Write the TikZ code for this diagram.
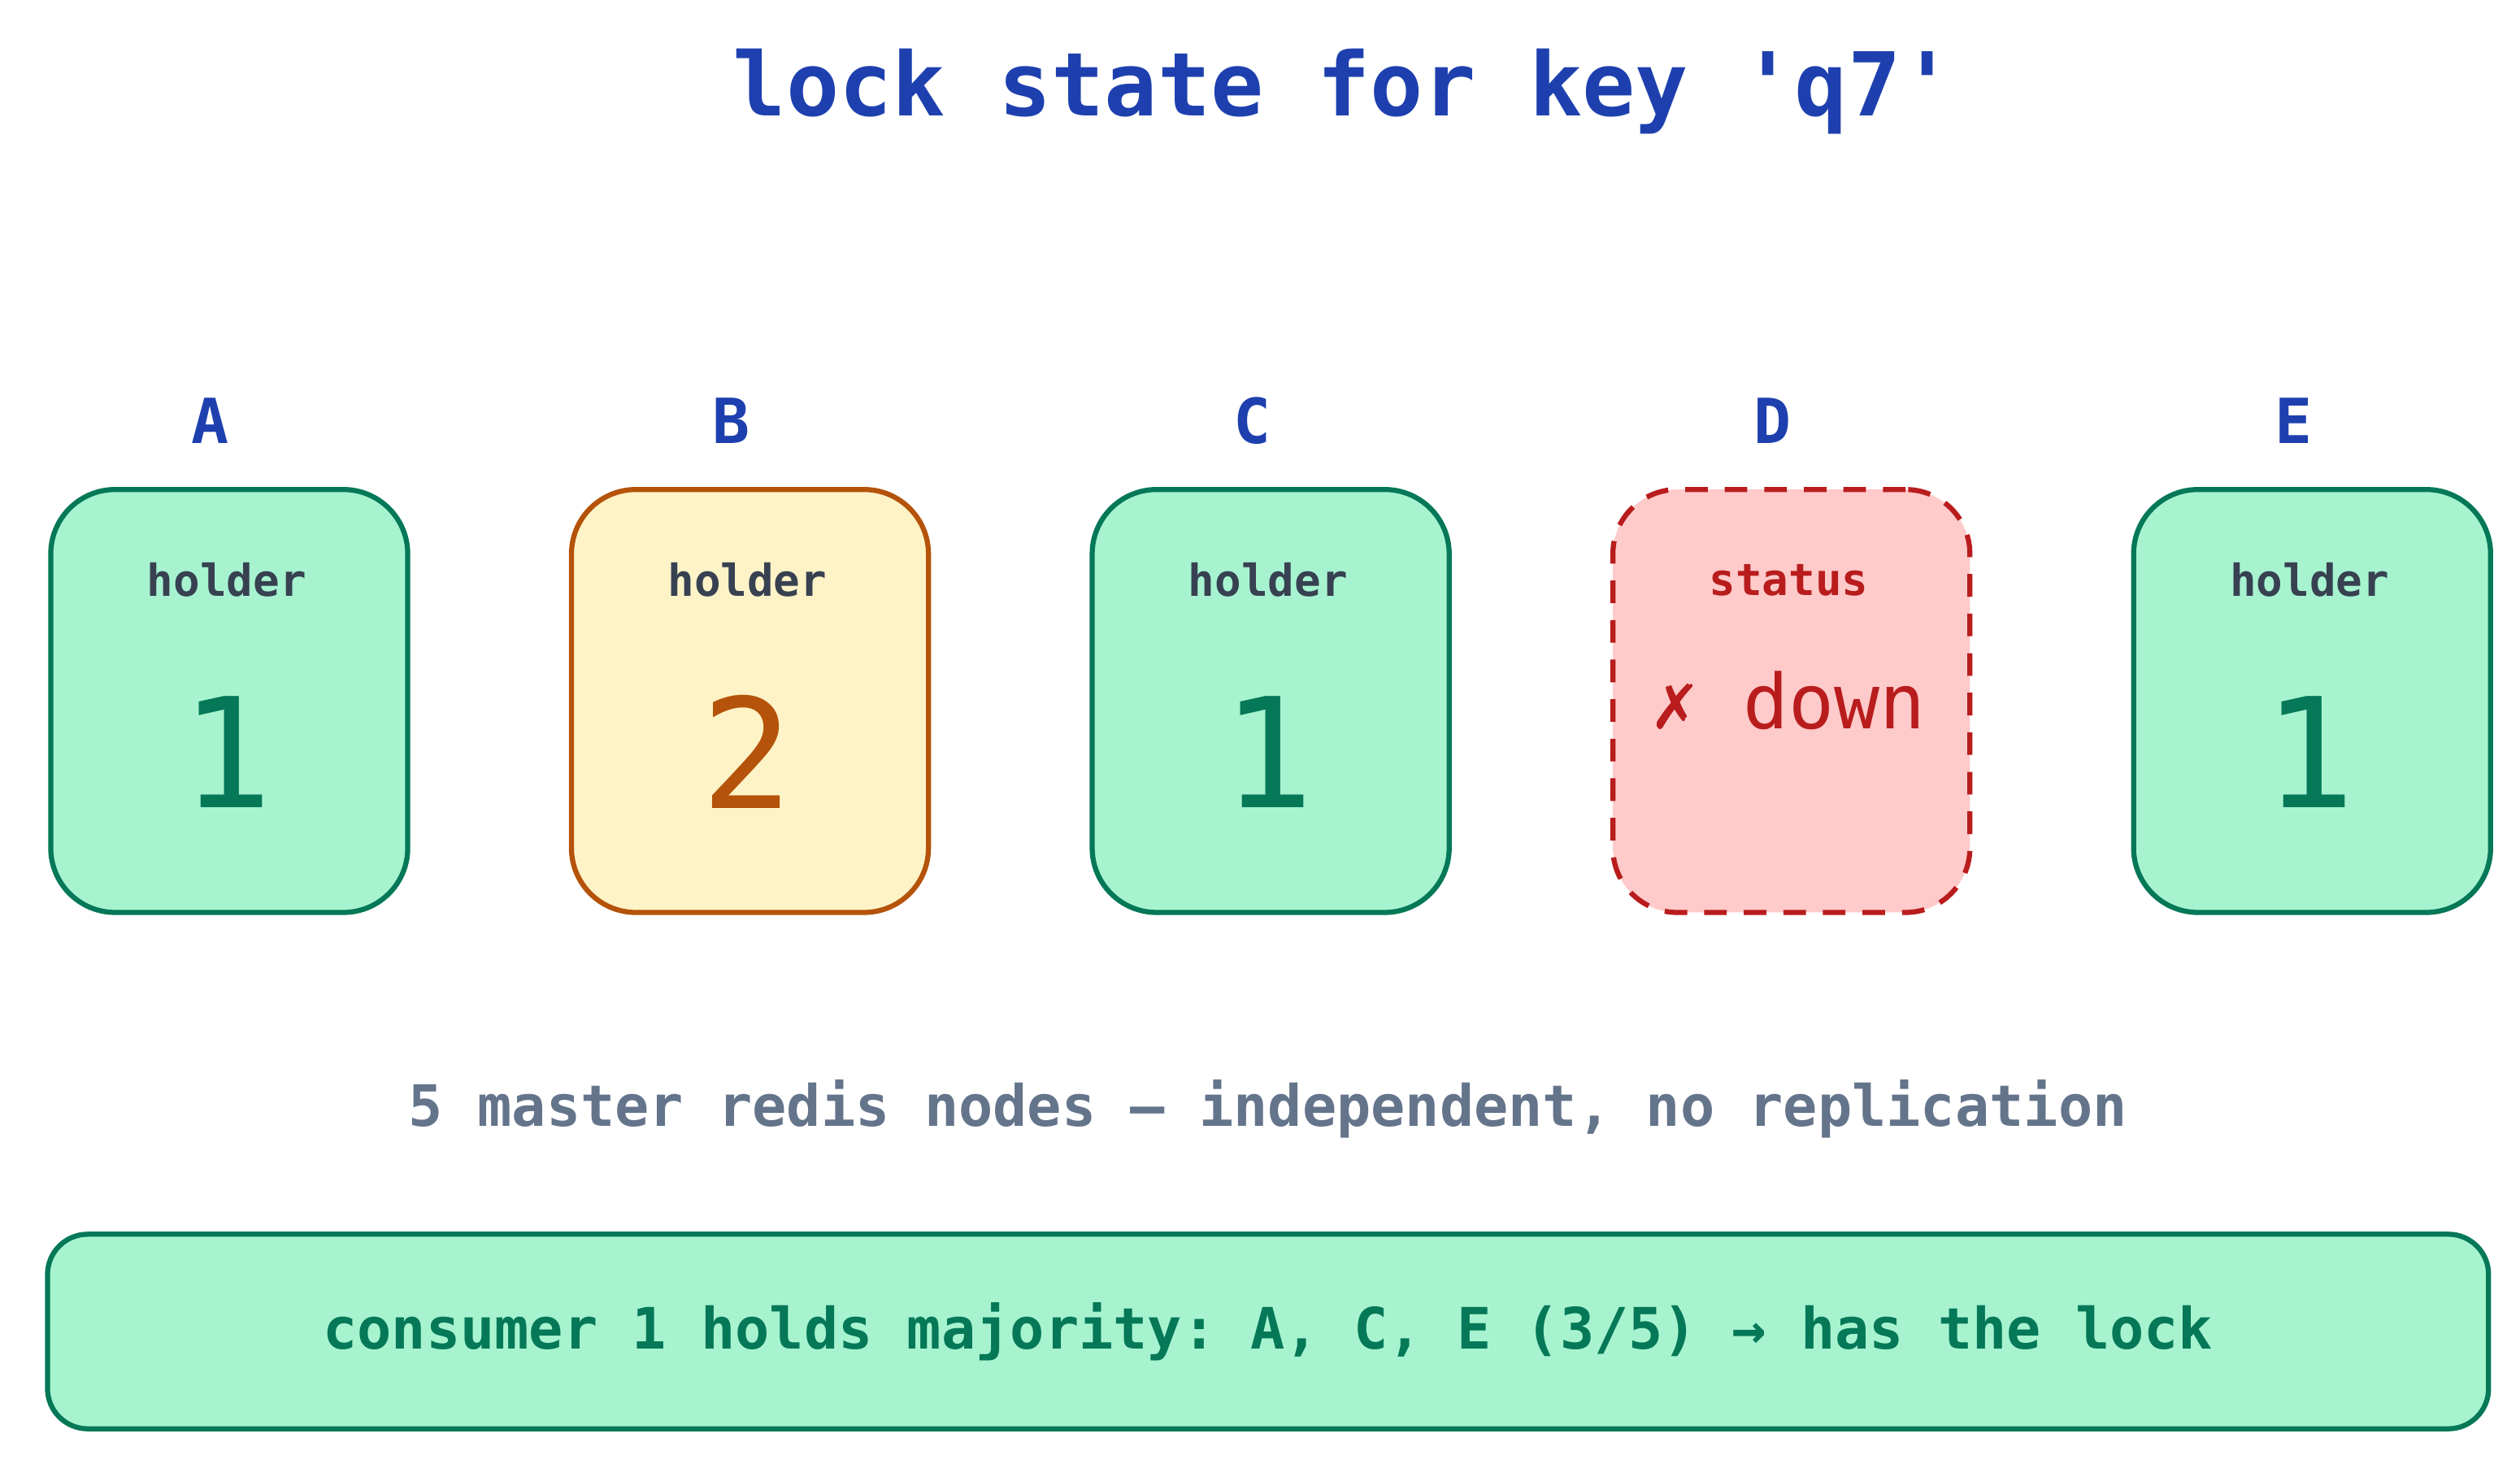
\documentclass[tikz,border=0pt]{standalone}
\usepackage{fontspec}
\setmonofont{DejaVu Sans Mono}
\definecolor{gfill}{HTML}{A7F3D0}\definecolor{gline}{HTML}{047857}
\definecolor{yfill}{HTML}{FEF3C7}\definecolor{yline}{HTML}{B45309}
\definecolor{rfill}{HTML}{FECACA}\definecolor{rline}{HTML}{B91C1C}
\definecolor{tblue}{HTML}{1E40AF}\definecolor{hold}{HTML}{374151}
\definecolor{cap}{HTML}{64748B}
\tikzset{
 box/.style={rounded corners=0.4cm,line width=0.9pt,minimum width=2.22cm,minimum height=2.63cm,anchor=north west},
 gbox/.style={box,draw=gline,fill=gfill},
 ybox/.style={box,draw=yline,fill=yfill},
 rbox/.style={box,draw=rline,fill=rfill,dashed,dash pattern=on 4pt off 3pt},
 lbl/.style={font=\ttfamily\bfseries\fontsize{11}{13}\selectfont,text=tblue},
 hl/.style={font=\ttfamily\bfseries\fontsize{7.8}{9}\selectfont},
 dig/.style={font=\ttfamily\fontsize{27}{30}\selectfont},
}
\begin{document}
\begin{tikzpicture}[x=0.01cm,y=-0.01cm]
\useasboundingbox (0,0) rectangle (1568,910.5);
\node[font=\ttfamily\bfseries\fontsize{15.6}{18}\selectfont,text=tblue] (title) at (836,57) {lock state for key 'q7'};
\foreach \n/\x/\s/\c/\v in {A/30/gbox/gline/1,B/354/ybox/yline/2,C/678/gbox/gline/1,E/1326/gbox/gline/1}{
 \node[\s] (box\n) at (\x,303) {};
 \node[lbl] (l\n) at (\x+101,262) {\n};
 \node[hl,text=hold] (h\n) at (\x+111,361) {holder};
 \node[dig,text=\c] (d\n) at (\x+111,468) {\v};
}
\node[rbox] (boxD) at (1002,303) {};
\node[lbl] (lD) at (1103,262) {D};
\node[hl,text=rline] (hD) at (1113,361) {status};
\node[font=\ttfamily\fontsize{13.4}{15}\selectfont,text=rline] (dD) at (1113,436) {✗ down};
\node[font=\ttfamily\bfseries\fontsize{10.1}{12}\selectfont,text=cap] (caption) at (789,690) {5 master redis nodes — independent, no replication};
\node[box,draw=gline,fill=gfill,minimum width=15.18cm,minimum height=1.21cm,rounded corners=0.25cm,font=\ttfamily\bfseries\fontsize{10.1}{12}\selectfont,text=gline,anchor=center] (res) at (789,828.5) {consumer 1 holds majority: A, C, E (3/5) → has the lock};
\end{tikzpicture}
\end{document}
